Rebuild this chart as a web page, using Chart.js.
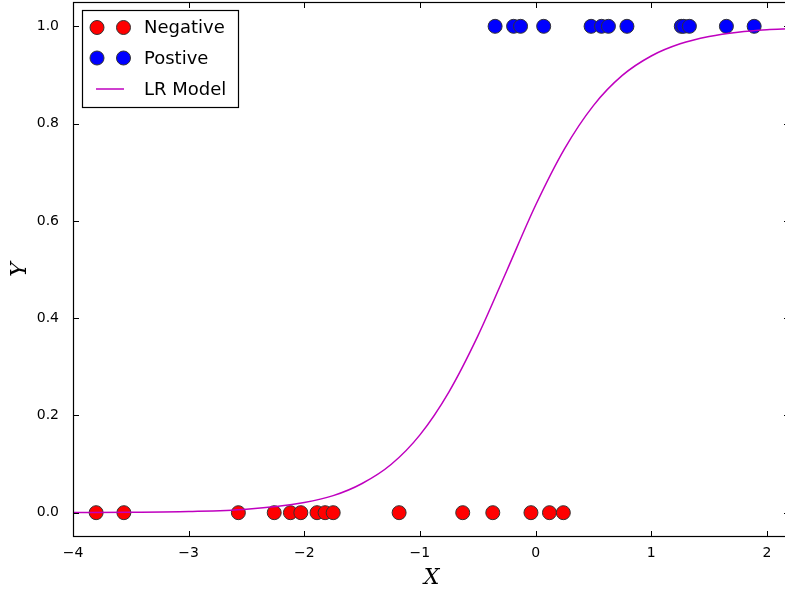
<!DOCTYPE html>
<html>
<head>
<meta charset="utf-8">
<script src="https://cdn.jsdelivr.net/npm/chart.js@4.4.1/dist/chart.umd.min.js"></script>
<style>
  html, body { margin: 0; padding: 0; background: #fff; overflow: hidden; }
  #chart { display: block; }
</style>
</head>
<body>
<canvas id="chart" width="790" height="591"></canvas>
<script>
// values
const negX = [-3.80, -3.56, -2.57, -2.26, -2.12, -2.03, -1.89, -1.82, -1.75, -1.18, -0.63, -0.37, -0.04, 0.12, 0.24];
const posX = [-0.35, -0.19, -0.13, 0.07, 0.48, 0.57, 0.63, 0.79, 1.26, 1.28, 1.33, 1.65, 1.89];
const modelX = [-4, -3.5, -3, -2.5, -2, -1.75, -1.5, -1.25, -1, -0.75, -0.5, -0.25, 0, 0.25, 0.5, 0.75, 1, 1.25, 1.5, 1.75, 2, 2.2];
const modelY = [0.0003, 0.0008, 0.0023, 0.007, 0.021, 0.035, 0.06, 0.099, 0.16, 0.248, 0.363, 0.497, 0.632, 0.748, 0.837, 0.899, 0.939, 0.964, 0.979, 0.988, 0.993, 0.995];
const xTicks = [-4, -3, -2, -1, 0, 1, 2];
const yTicks = [0, 0.2, 0.4, 0.6, 0.8, 1.0];
const seriesLabels = ['Negative', 'Postive', 'LR Model'];

Chart.defaults.color = '#000';
Chart.defaults.font.family = '"DejaVu Sans"';

const minus = s => String(s).replace('-', '\u2212');

// drop the label overhang padding so the plot area reaches the edges
function noPad(s) {
    s.paddingTop = 0;
    s.paddingBottom = 0;
    s.paddingLeft = 0;
    s.paddingRight = 0;
}

// matplotlib style frame, inward ticks on all four sides, and a legend with two markers
const framePlugin = {
    id: 'frame',
    afterDraw(chart) {
        const ctx = chart.ctx;
        const a = chart.chartArea;
        const xs = chart.scales.x, ys = chart.scales.y;
        ctx.save();
        ctx.strokeStyle = '#000';
        ctx.lineWidth = 1.2;
        ctx.strokeRect(a.left + 0.5, a.top + 0.5, a.right - a.left - 1, a.bottom - a.top - 1);
        ctx.beginPath();
        ctx.lineWidth = 1;
        const len = 6;
        xTicks.forEach(v => {
            const px = Math.round(xs.getPixelForValue(v)) + 0.5;
            ctx.moveTo(px, a.bottom); ctx.lineTo(px, a.bottom - len);
            ctx.moveTo(px, a.top); ctx.lineTo(px, a.top + len);
        });
        yTicks.forEach(v => {
            const py = Math.round(ys.getPixelForValue(v)) + 0.5;
            ctx.moveTo(a.left, py); ctx.lineTo(a.left + len, py);
            ctx.moveTo(a.right, py); ctx.lineTo(a.right - len, py);
        });
        ctx.stroke();

        // legend
        const bx = 82.5, by = 10.5, bw = 156, bh = 97;
        ctx.fillStyle = '#fff';
        ctx.fillRect(bx, by, bw, bh);
        ctx.lineWidth = 1.2;
        ctx.strokeRect(bx, by, bw, bh);
        const rows = [27.5, 58, 89];
        ctx.font = '18px "DejaVu Sans"';
        ctx.textBaseline = 'middle';
        chart.data.datasets.forEach((ds, i) => {
            const y = rows[i];
            if (ds.showLine) {
                ctx.strokeStyle = ds.borderColor;
                ctx.lineWidth = 1.5;
                ctx.beginPath();
                ctx.moveTo(96, y); ctx.lineTo(124, y);
                ctx.stroke();
            } else {
                [97, 123.5].forEach(mx => {
                    ctx.beginPath();
                    ctx.arc(mx, y, ds.pointRadius, 0, Math.PI * 2);
                    ctx.fillStyle = ds.backgroundColor;
                    ctx.fill();
                    ctx.strokeStyle = ds.pointBorderColor;
                    ctx.lineWidth = 1;
                    ctx.stroke();
                });
            }
            ctx.fillStyle = '#000';
            ctx.fillText(ds.label, 144, y + 1);
        });
        ctx.restore();
    }
};

const ctx = document.getElementById('chart').getContext('2d');
new Chart(ctx, {
    type: 'scatter',
    data: {
        datasets: [
            {
                label: seriesLabels[0],
                data: negX.map(x => ({ x, y: 0 })),
                backgroundColor: '#ff0000',
                pointBorderColor: '#333',
                pointBorderWidth: 1,
                pointRadius: 7,
                showLine: false,
                order: 2
            },
            {
                label: seriesLabels[1],
                data: posX.map(x => ({ x, y: 1 })),
                backgroundColor: '#0000ff',
                pointBorderColor: '#333',
                pointBorderWidth: 1,
                pointRadius: 7,
                showLine: false,
                order: 1
            },
            {
                label: seriesLabels[2],
                data: modelX.map((x, i) => ({ x, y: modelY[i] })),
                borderColor: '#bf00bf',
                borderWidth: 1.5,
                pointRadius: 0,
                showLine: true,
                cubicInterpolationMode: 'monotone',
                order: 0
            }
        ]
    },
    options: {
        responsive: false,
        animation: false,
        devicePixelRatio: 1,
        layout: { autoPadding: false, padding: { top: 2, right: 0, left: 0, bottom: 0 } },
        plugins: {
            legend: { display: false },
            tooltip: { enabled: false }
        },
        scales: {
            x: {
                type: 'linear',
                min: -4,
                max: 2.2,
                grid: { display: false },
                border: { display: false },
                afterBuildTicks: s => { s.ticks = xTicks.map(v => ({ value: v })); },
                afterFit: s => { s.height = 54; noPad(s); },
                ticks: {
                    padding: 0,
                    font: { size: 14 },
                    maxRotation: 0,
                    callback: v => minus(v)
                },
                title: {
                    display: true,
                    text: 'X',
                    font: { family: '"DejaVu Serif"', style: 'italic', size: 22 },
                    padding: 0
                }
            },
            y: {
                type: 'linear',
                min: -0.05,
                max: 1.05,
                grid: { display: false },
                border: { display: false },
                afterBuildTicks: s => { s.ticks = yTicks.map(v => ({ value: v })); },
                afterFit: s => { s.width = 73; noPad(s); },
                ticks: {
                    padding: 6,
                    font: { size: 14 },
                    callback: v => v.toFixed(1)
                },
                title: {
                    display: true,
                    text: 'Y',
                    font: { family: '"DejaVu Serif"', style: 'italic', size: 22 },
                    padding: { top: 7, bottom: 0 }
                }
            }
        }
    },
    plugins: [framePlugin]
});
</script>
</body>
</html>
